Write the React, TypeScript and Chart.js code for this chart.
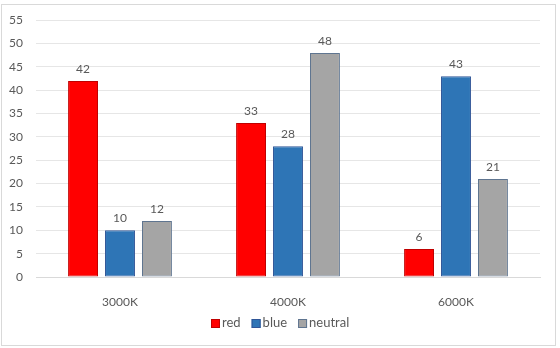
import React, { useEffect, useRef } from "react";
import { Chart, registerables } from "chart.js";

Chart.register(...registerables);

const categories = ["3000K", "4000K", "6000K"];
const redValues = [42, 33, 6];
const blueValues = [10, 28, 43];
const neutralValues = [12, 48, 21];
const seriesNames = ["red", "blue", "neutral"];

const FONT = "Lato, 'Open Sans', sans-serif";
const TEXT = "#595959";

const dataLabels = {
  id: "dataLabels",
  afterDatasetsDraw(chart: any) {
    const ctx = chart.ctx;
    ctx.save();
    ctx.font = `12px ${FONT}`;
    ctx.fillStyle = TEXT;
    ctx.textAlign = "center";
    ctx.textBaseline = "bottom";
    chart.data.datasets.forEach((ds: any, i: number) => {
      const meta = chart.getDatasetMeta(i);
      meta.data.forEach((el: any, j: number) => {
        ctx.fillText(String(ds.data[j]), el.x, el.y - 6);
      });
    });
    ctx.restore();
  },
};

const customLegend = {
  id: "customLegend",
  afterDraw(chart: any) {
    const ctx = chart.ctx;
    ctx.save();
    ctx.font = `13px ${FONT}`;
    ctx.textBaseline = "middle";
    ctx.textAlign = "left";
    const box = 9;
    const gapBoxText = 2;
    const gapItems = 11;
    const items = chart.data.datasets.map((ds: any) => ({
      ds,
      w: box + gapBoxText + ctx.measureText(ds.label).width,
    }));
    const total = items.reduce((a: number, it: any) => a + it.w, 0) + gapItems * (items.length - 1);
    let x = Math.round(280 - total / 2);
    const y = 323;
    items.forEach((it: any) => {
      ctx.fillStyle = it.ds.backgroundColor;
      ctx.fillRect(x, y - 4, box, box);
      ctx.strokeStyle = it.ds.borderColor;
      ctx.lineWidth = 1;
      ctx.strokeRect(x + 0.5, y - 4 + 0.5, box - 1, box - 1);
      ctx.fillStyle = TEXT;
      ctx.fillText(it.ds.label, x + box + gapBoxText, y);
      x += it.w + gapItems;
    });
    ctx.restore();
  },
};

export default function App() {
  const ref = useRef<HTMLCanvasElement | null>(null);
  useEffect(() => {
    document.body.style.margin = "0";
    const chart = new Chart(ref.current as HTMLCanvasElement, {
      type: "bar",
      data: {
        labels: categories,
        datasets: [
          { label: seriesNames[0], data: redValues, backgroundColor: "#FF0000", borderColor: "#C00000", borderWidth: 1, borderSkipped: false },
          { label: seriesNames[1], data: blueValues, backgroundColor: "#2E75B6", borderColor: "#2F5597", borderWidth: 1, borderSkipped: false },
          { label: seriesNames[2], data: neutralValues, backgroundColor: "#A5A5A5", borderColor: "#5F7590", borderWidth: 1, borderSkipped: false },
        ],
      },
      options: {
        animation: false,
        responsive: false,
        maintainAspectRatio: false,
        datasets: { bar: { categoryPercentage: 0.66, barPercentage: 0.81 } },
        layout: { padding: { top: 20, right: 20, bottom: 41, left: 0 } },
        plugins: {
          legend: { display: false },
          tooltip: { enabled: false },
        },
        scales: {
          x: {
            grid: { display: false },
            border: { color: "#D9D9D9" },
            ticks: { color: TEXT, font: { family: FONT, size: 12 }, padding: 10 },
            afterFit: (s: any) => { s.height = 30; },
          },
          y: {
            min: 0,
            max: 55,
            ticks: { stepSize: 5, color: TEXT, font: { family: FONT, size: 12 }, padding: 13 },
            grid: { color: "#E6E6E6", drawTicks: false },
            border: { display: false },
            afterFit: (s: any) => { s.width = 36; },
          },
        },
      },
      plugins: [dataLabels, customLegend],
    });
    return () => chart.destroy();
  }, []);
  return (
    <div style={{ position: "relative", width: 560, height: 348 }}>
      <canvas ref={ref} width={560} height={348} style={{ display: "block" }} />
      <div
        style={{
          position: "absolute",
          left: 1,
          top: 4,
          width: 553,
          height: 340,
          border: "1px solid #D9D9D9",
          pointerEvents: "none",
        }}
      />
    </div>
  );
}
